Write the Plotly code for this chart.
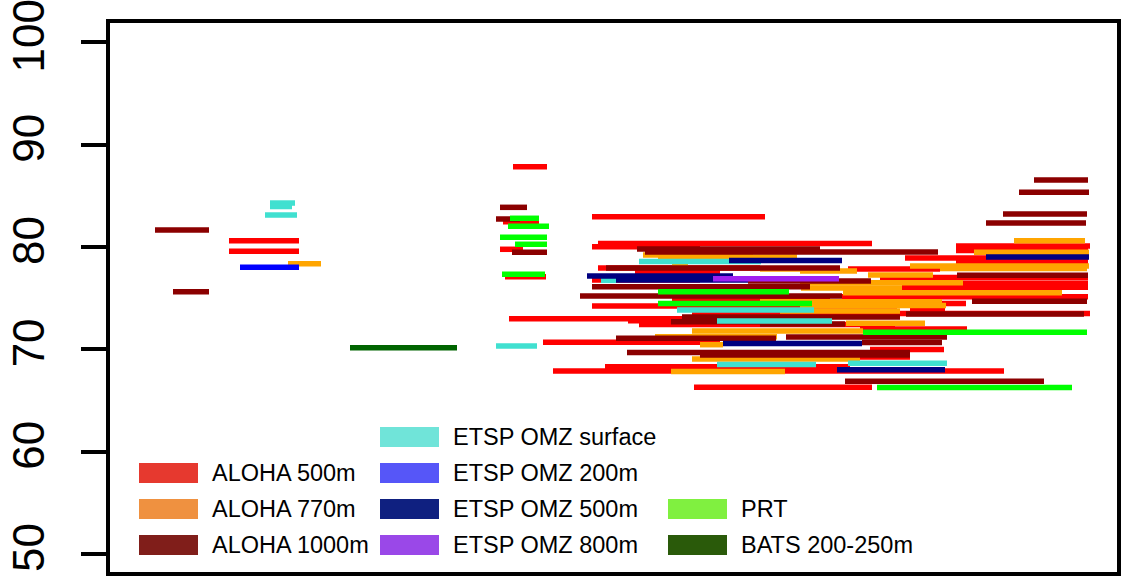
import plotly.graph_objects as go

# ---------------- data ----------------
series_names = ["ALOHA 500m", "ALOHA 770m", "ALOHA 1000m", "ETSP OMZ surface",
                "ETSP OMZ 200m", "ETSP OMZ 500m", "ETSP OMZ 800m", "PRT", "BATS 200-250m"]

# ALOHA 500m
a500_start = [229, 229, 513, 503, 500, 505, 592, 598, 592, 956, 956, 905, 956, 598, 635, 592,
              848, 880, 963, 902, 842, 672, 900, 592, 509, 628, 639, 860, 543, 870, 605, 553,
              694, 692, 800, 910]
a500_end = [299, 299, 547, 539, 523, 546, 765, 872, 700, 1090, 1088, 1088, 1088, 760, 720, 700,
            940, 1088, 1088, 1088, 1088, 830, 966, 897, 682, 760, 895, 967, 720, 944, 850, 1004,
            872, 1090, 910, 945]
a500_y = [80.63, 79.59, 87.86, 82.48, 79.79, 77.11, 82.97, 80.35, 80.04, 80.11, 79.67, 78.94,
          78.55, 77.96, 77.54, 76.79, 77.86, 77.03, 76.47, 76.07, 75.16, 74.88, 74.49, 74.25,
          73.01, 72.81, 72.44, 72.00, 70.70, 70.00, 68.32, 67.90, 66.31, 73.52, 69.27, 73.86]

# ALOHA 770m
a770_start = [288, 643, 658, 672, 760, 801, 1014, 974, 910, 940, 800, 868, 800, 843, 760, 800,
              780, 846, 692, 655, 700, 692, 671]
a770_end = [321, 753, 797, 688, 801, 902, 1085, 1089, 1089, 1087, 857, 933, 963, 1062, 942, 946,
            900, 925, 863, 777, 723, 860, 785]
a770_y = [78.38, 79.23, 79.03, 78.16, 77.86, 76.01, 80.63, 79.49, 78.16, 77.91, 77.67, 77.28,
          76.52, 75.55, 74.67, 74.30, 73.76, 72.56, 71.81, 71.25, 70.47, 69.07, 67.85]

# ALOHA 1000m
a1000_start = [155, 173, 500, 496, 512, 637, 645, 606, 592, 748, 580, 1034, 1019, 1003, 986, 957,
               972, 906, 682, 671, 760, 616, 786, 862, 627, 700, 845]
a1000_end = [209, 209, 527, 520, 547, 820, 938, 840, 810, 871, 842, 1088, 1089, 1087, 1086, 1088,
             1087, 1084, 900, 810, 845, 776, 947, 942, 910, 910, 1044]
a1000_y = [81.67, 75.64, 83.89, 82.75, 79.49, 79.82, 79.52, 77.96, 76.13, 76.69, 75.23, 86.56,
           85.36, 83.24, 82.36, 77.25, 74.72, 73.47, 73.17, 72.71, 72.49, 71.09, 71.22, 70.68,
           69.71, 69.46, 66.89]

# ETSP OMZ surface
surf_start = [270, 270, 265, 496, 639, 601, 677, 717, 717, 848]
surf_end = [295, 292, 297, 537, 761, 616, 814, 832, 816, 947]
surf_y = [84.31, 83.97, 83.14, 70.34, 78.60, 76.76, 73.86, 72.78, 68.53, 68.65]

# ETSP OMZ 200m
e200_start = [240]
e200_end = [299]
e200_y = [78.03]

# ETSP OMZ 500m
e500_start = [729, 587, 616, 723, 837, 986]
e500_end = [842, 733, 748, 862, 945, 1089]
e500_y = [78.69, 77.18, 76.79, 70.58, 68.02, 79.03]

# ETSP OMZ 800m
e800_start = [713]
e800_end = [839]
e800_y = [76.92]

# PRT
prt_start = [510, 508, 500, 515, 502, 658, 658, 863, 877]
prt_end = [539, 549, 547, 547, 545, 789, 812, 1087, 1072]
prt_y = [82.82, 82.03, 80.96, 80.28, 77.34, 75.65, 74.49, 71.69, 66.29]

# BATS 200-250m
bats_start = [350]
bats_end = [457]
bats_y = [70.17]

y_ticks = [50, 60, 70, 80, 90, 100]

# ---------------- styles ----------------
line_colors = ["#FF0000", "#FFA500", "#8B0000", "#40E0D0", "#0000FF", "#000080",
               "#A020F0", "#00FF00", "#006400"]
legend_colors = ["#E6392F", "#EF9140", "#801E1A", "#70E4D9", "#5656F8", "#0F2080",
                 "#9A48E8", "#80F040", "#2A5A0A"]

segments = [
    (a500_start, a500_end, a500_y),
    (a770_start, a770_end, a770_y),
    (a1000_start, a1000_end, a1000_y),
    (surf_start, surf_end, surf_y),
    (e200_start, e200_end, e200_y),
    (e500_start, e500_end, e500_y),
    (e800_start, e800_end, e800_y),
    (prt_start, prt_end, prt_y),
    (bats_start, bats_end, bats_y),
]

fig = go.Figure()
for (s, e, y), name, col in zip(segments, series_names, line_colors):
    xs, ys = [], []
    for a, b, v in zip(s, e, y):
        xs += [a, b, None]
        ys += [v, v, None]
    fig.add_trace(go.Scatter(x=xs, y=ys, mode="lines", name=name,
                             line=dict(color=col, width=5.5), hoverinfo="skip",
                             showlegend=False))

# ---------------- manual legend (R style, 3 columns, bottom aligned) ----------------
L, R, T, B = 110, 1117, 23, 572
W, H = R - L, B - T
def px(x):
    return (x - L) / W
def py(y):
    return (B - y) / H

# (series index, column, row)
legend_slots = [(0, 0, 1), (1, 0, 2), (2, 0, 3),
                (3, 1, 0), (4, 1, 1), (5, 1, 2), (6, 1, 3),
                (7, 2, 2), (8, 2, 3)]
col_sw = [(139, 198, 212), (380, 439, 453), (668, 727, 741)]
row_top = [427, 463, 499, 535]
for idx, c, r in legend_slots:
    x0, x1, tx = col_sw[c]
    y0 = row_top[r]
    fig.add_shape(type="rect", xref="paper", yref="paper",
                  x0=px(x0), x1=px(x1), y0=py(y0 + 20), y1=py(y0),
                  fillcolor=legend_colors[idx], line=dict(width=0), layer="above")
    fig.add_annotation(xref="paper", yref="paper", x=px(tx), y=py(y0 + 10),
                       text=series_names[idx], showarrow=False, xanchor="left",
                       yanchor="middle", borderpad=0, xshift=-1,
                       font=dict(size=23.5, color="black"))

fig.update_layout(
    width=1124, height=578,
    margin=dict(l=L, r=1124 - R, t=T, b=578 - B, pad=0, autoexpand=False),
    plot_bgcolor="white", paper_bgcolor="white",
    font=dict(family="Liberation Sans, Arial, sans-serif", color="black"),
    showlegend=False,
)
fig.update_xaxes(range=[110, 1117], showgrid=False, zeroline=False, showticklabels=False,
                 ticks="", showline=True, linewidth=4, linecolor="black", mirror=True,
                 automargin=False)
fig.update_yaxes(range=[48.26, 101.9], tickvals=y_ticks, ticktext=[str(v) for v in y_ticks],
                 ticks="outside", ticklen=25, tickwidth=4, tickcolor="black",
                 tickangle=-90, tickfont=dict(size=44, color="black"),
                 ticklabelstandoff=19, ticklabeloverflow="allow", automargin=False,
                 showgrid=False, zeroline=False, showline=True, linewidth=4,
                 linecolor="black", mirror=True)

fig.write_html("out.html", config={"displayModeBar": False},
               post_script="document.body.style.margin='0';")
